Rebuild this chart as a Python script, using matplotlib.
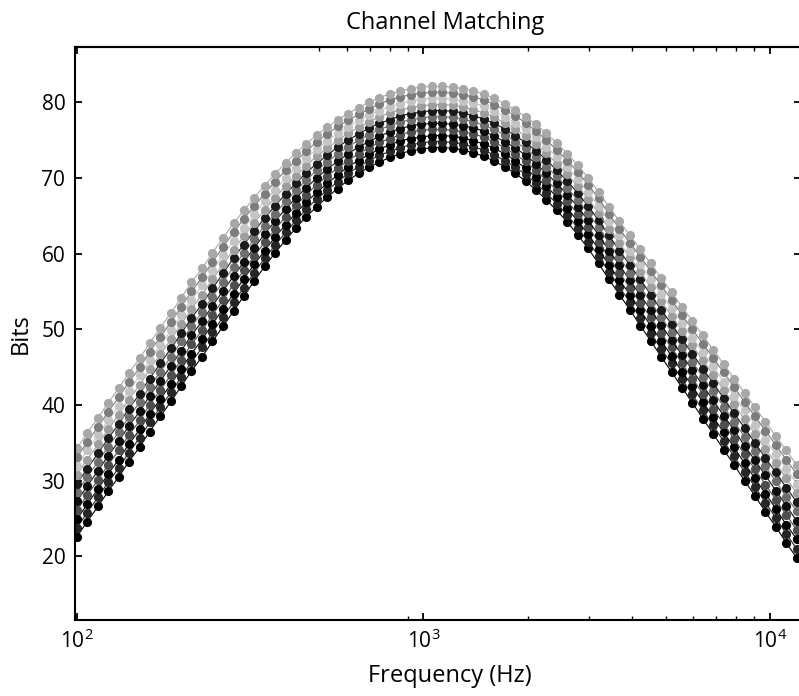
import matplotlib.pyplot as plt

plt.rcParams['font.family'] = ['Open Sans', 'DejaVu Sans']
plt.rcParams['mathtext.default'] = 'regular'

# frequency grid shared by all channels (Hz)
freq_hz = [100, 107, 115, 123, 132, 141, 152, 162, 174, 187,
           200, 214, 230, 246, 264, 283, 303, 325, 348, 373,
           400, 429, 459, 492, 528, 566, 606, 650, 696, 746,
           800, 857, 919, 985, 1056, 1131, 1213, 1300, 1393, 1493,
           1600, 1715, 1838, 1970, 2111, 2263, 2425, 2599, 2786, 2986,
           3200, 3430, 3676, 3940, 4222, 4525, 4850, 5198, 5572, 5971,
           6400, 6859, 7352, 7879, 8445, 9051, 9701, 10397, 11143, 11943]

ch01 = [22.6, 24.6, 26.6, 28.6, 30.5, 32.5, 34.5, 36.5, 38.5, 40.5,
        42.5, 44.5, 46.4, 48.4, 50.4, 52.4, 54.4, 56.4, 58.3, 60.1,
        61.8, 63.4, 64.9, 66.2, 67.5, 68.6, 69.7, 70.6, 71.4, 72.1,
        72.7, 73.2, 73.6, 73.8, 74.0, 74.0, 73.9, 73.7, 73.3, 72.9,
        72.2, 71.5, 70.6, 69.6, 68.4, 67.1, 65.7, 64.2, 62.5, 60.7,
        58.7, 56.6, 54.6, 52.6, 50.5, 48.5, 46.4, 44.4, 42.3, 40.3,
        38.2, 36.2, 34.1, 32.1, 30.0, 28.0, 25.9, 23.9, 21.8, 19.8]
ch02 = [23.8, 25.8, 27.8, 29.8, 31.7, 33.7, 35.7, 37.7, 39.7, 41.7,
        43.7, 45.7, 47.6, 49.6, 51.6, 53.6, 55.5, 57.5, 59.4, 61.1,
        62.8, 64.4, 65.9, 67.2, 68.4, 69.5, 70.6, 71.5, 72.3, 73.0,
        73.5, 74.0, 74.4, 74.6, 74.8, 74.8, 74.7, 74.5, 74.1, 73.7,
        73.0, 72.3, 71.4, 70.5, 69.3, 68.0, 66.6, 65.1, 63.4, 61.6,
        59.7, 57.6, 55.6, 53.6, 51.5, 49.5, 47.4, 45.5, 43.4, 41.4,
        39.3, 37.3, 35.2, 33.2, 31.2, 29.2, 27.1, 25.1, 23.0, 21.0]
ch03 = [24.9, 26.9, 28.9, 30.9, 32.8, 34.8, 36.8, 38.8, 40.8, 42.8,
        44.8, 46.8, 48.7, 50.7, 52.7, 54.7, 56.7, 58.6, 60.4, 62.2,
        63.8, 65.4, 66.8, 68.1, 69.3, 70.4, 71.5, 72.3, 73.1, 73.8,
        74.4, 74.9, 75.2, 75.4, 75.6, 75.6, 75.5, 75.3, 74.9, 74.5,
        73.9, 73.2, 72.3, 71.3, 70.1, 68.9, 67.5, 66.0, 64.3, 62.6,
        60.6, 58.5, 56.5, 54.6, 52.5, 50.5, 48.5, 46.5, 44.4, 42.5,
        40.4, 38.4, 36.4, 34.4, 32.3, 30.3, 28.3, 26.3, 24.2, 22.3]
ch04 = [26.1, 28.1, 30.1, 32.1, 34.0, 36.0, 38.0, 40.0, 42.0, 44.0,
        46.0, 48.0, 49.9, 51.9, 53.9, 55.9, 57.8, 59.7, 61.5, 63.2,
        64.9, 66.4, 67.8, 69.1, 70.3, 71.3, 72.3, 73.2, 74.0, 74.7,
        75.2, 75.7, 76.1, 76.3, 76.4, 76.4, 76.3, 76.1, 75.8, 75.4,
        74.7, 74.0, 73.1, 72.2, 71.0, 69.7, 68.4, 66.9, 65.3, 63.5,
        61.6, 59.5, 57.5, 55.5, 53.5, 51.6, 49.5, 47.6, 45.5, 43.5,
        41.5, 39.5, 37.5, 35.5, 33.5, 31.5, 29.5, 27.5, 25.5, 23.5]
ch05 = [27.3, 29.3, 31.3, 33.3, 35.2, 37.2, 39.2, 41.2, 43.2, 45.2,
        47.2, 49.2, 51.1, 53.1, 55.1, 57.0, 58.9, 60.8, 62.6, 64.3,
        65.9, 67.4, 68.7, 70.0, 71.2, 72.2, 73.2, 74.1, 74.8, 75.5,
        76.1, 76.5, 76.9, 77.1, 77.2, 77.2, 77.1, 76.9, 76.6, 76.2,
        75.5, 74.8, 74.0, 73.0, 71.9, 70.6, 69.3, 67.8, 66.2, 64.4,
        62.5, 60.4, 58.5, 56.5, 54.5, 52.6, 50.6, 48.6, 46.6, 44.6,
        42.6, 40.6, 38.6, 36.7, 34.6, 32.7, 30.7, 28.7, 26.7, 24.7]
ch06 = [28.5, 30.5, 32.5, 34.5, 36.4, 38.4, 40.4, 42.4, 44.4, 46.4,
        48.4, 50.4, 52.3, 54.3, 56.3, 58.2, 60.1, 61.9, 63.7, 65.3,
        66.9, 68.4, 69.7, 71.0, 72.1, 73.2, 74.1, 75.0, 75.7, 76.4,
        76.9, 77.4, 77.7, 77.9, 78.1, 78.1, 78.0, 77.8, 77.4, 77.0,
        76.4, 75.7, 74.8, 73.9, 72.8, 71.5, 70.2, 68.7, 67.1, 65.4,
        63.5, 61.4, 59.5, 57.5, 55.6, 53.6, 51.6, 49.7, 47.7, 45.7,
        43.7, 41.8, 39.8, 37.8, 35.8, 33.9, 31.9, 29.9, 27.9, 26.0]
ch07 = [29.6, 31.6, 33.6, 35.6, 37.5, 39.5, 41.5, 43.5, 45.5, 47.5,
        49.5, 51.5, 53.4, 55.4, 57.4, 59.4, 61.2, 63.0, 64.7, 66.3,
        67.9, 69.3, 70.7, 71.9, 73.0, 74.1, 75.0, 75.8, 76.6, 77.2,
        77.7, 78.2, 78.5, 78.7, 78.9, 78.9, 78.8, 78.6, 78.2, 77.8,
        77.2, 76.5, 75.6, 74.7, 73.6, 72.4, 71.0, 69.6, 68.0, 66.3,
        64.4, 62.4, 60.4, 58.5, 56.6, 54.6, 52.6, 50.7, 48.7, 46.8,
        44.8, 42.9, 40.9, 38.9, 37.0, 35.0, 33.0, 31.1, 29.1, 27.2]
ch08 = [30.8, 32.8, 34.8, 36.8, 38.7, 40.7, 42.7, 44.7, 46.7, 48.7,
        50.7, 52.7, 54.6, 56.6, 58.6, 60.5, 62.3, 64.1, 65.8, 67.4,
        68.9, 70.3, 71.6, 72.9, 73.9, 75.0, 75.9, 76.7, 77.4, 78.1,
        78.6, 79.0, 79.3, 79.5, 79.7, 79.7, 79.6, 79.4, 79.0, 78.6,
        78.0, 77.3, 76.5, 75.5, 74.5, 73.3, 71.9, 70.5, 68.9, 67.2,
        65.4, 63.3, 61.4, 59.5, 57.6, 55.6, 53.7, 51.8, 49.8, 47.9,
        45.9, 44.0, 42.0, 40.1, 38.1, 36.2, 34.2, 32.3, 30.3, 28.4]
ch09 = [32.0, 34.0, 36.0, 38.0, 39.9, 41.9, 43.9, 45.9, 47.9, 49.9,
        51.9, 53.9, 55.8, 57.8, 59.8, 61.7, 63.4, 65.2, 66.9, 68.4,
        70.0, 71.3, 72.6, 73.8, 74.9, 75.9, 76.7, 77.6, 78.3, 78.9,
        79.4, 79.8, 80.2, 80.4, 80.5, 80.5, 80.4, 80.2, 79.9, 79.5,
        78.8, 78.1, 77.3, 76.4, 75.4, 74.1, 72.8, 71.4, 69.9, 68.1,
        66.3, 64.3, 62.4, 60.4, 58.6, 56.7, 54.7, 52.8, 50.9, 48.9,
        47.0, 45.1, 43.1, 41.2, 39.3, 37.4, 35.4, 33.5, 31.6, 29.6]
ch10 = [33.1, 35.1, 37.1, 39.1, 41.0, 43.0, 45.0, 47.0, 49.0, 51.0,
        53.0, 55.0, 56.9, 58.9, 60.9, 62.8, 64.6, 66.3, 67.9, 69.5,
        71.0, 72.3, 73.5, 74.8, 75.8, 76.8, 77.6, 78.4, 79.1, 79.8,
        80.3, 80.7, 81.0, 81.2, 81.3, 81.3, 81.2, 81.0, 80.7, 80.3,
        79.7, 79.0, 78.2, 77.3, 76.2, 75.0, 73.7, 72.3, 70.8, 69.1,
        67.3, 65.2, 63.3, 61.4, 59.6, 57.7, 55.8, 53.9, 51.9, 50.0,
        48.1, 46.2, 44.3, 42.4, 40.4, 38.5, 36.6, 34.7, 32.8, 30.9]
ch11 = [34.3, 36.3, 38.3, 40.3, 42.2, 44.2, 46.2, 48.2, 50.2, 52.2,
        54.2, 56.2, 58.1, 60.1, 62.1, 64.0, 65.7, 67.4, 69.0, 70.5,
        72.0, 73.3, 74.5, 75.7, 76.7, 77.7, 78.5, 79.3, 80.0, 80.6,
        81.1, 81.5, 81.8, 82.0, 82.1, 82.1, 82.0, 81.8, 81.5, 81.1,
        80.5, 79.8, 79.0, 78.1, 77.1, 75.9, 74.6, 73.2, 71.7, 70.0,
        68.2, 66.2, 64.3, 62.4, 60.6, 58.7, 56.8, 54.9, 53.0, 51.1,
        49.2, 47.3, 45.4, 43.5, 41.6, 39.7, 37.8, 35.9, 34.0, 32.1]

channels = [ch01, ch02, ch03, ch04, ch05, ch06, ch07, ch08, ch09, ch10, ch11]
channel_colors = ['#000000', '#262626', '#000000', '#4d4d4d', '#0d0d0d', '#6e6e6e',
                  '#1a1a1a', '#9e9e9e', '#c4c4c4', '#7d7d7d', '#a8a8a8']

xtick_pos = [100, 1000, 10000]
xtick_labels = ['$10^{2}$', '$10^{3}$', '$10^{4}$']
xminor_bottom = [900, 2000, 3000, 4000, 5000, 6000, 7000, 8000, 9000]
xminor_top = [500, 600, 700, 800, 900, 2000, 3000, 4000, 5000, 6000, 7000, 8000, 9000]
ytick_pos = [20, 30, 40, 50, 60, 70, 80]

fig = plt.figure(figsize=(7.99, 6.96), dpi=100)
ax = fig.add_axes([0.0939, 0.1092, 0.9086, 0.8233])

for vals, col in zip(channels, channel_colors):
    ax.plot(freq_hz, vals, '-o', color=col, lw=0.8, ms=6.6, mew=0)

ax.set_xscale('log')
ax.set_xlim(98.7, 12290)
ax.set_ylim(11.6, 87.3)

ax.set_xticks(xtick_pos)
ax.set_xticklabels(xtick_labels)
ax.set_xticks(xminor_bottom, minor=True)
ax.set_xticklabels([], minor=True)
ax.set_yticks(ytick_pos)

ax.tick_params(axis='both', which='major', direction='in', length=5, width=1.3,
               labelsize=15)
ax.tick_params(axis='both', which='minor', direction='in', length=3, width=1.0)
ax.tick_params(axis='y', right=True, pad=7)
ax.tick_params(axis='x', pad=7)

top = ax.secondary_xaxis('top')
top.set_xticks(xtick_pos)
top.set_xticklabels([])
top.set_xticks(xminor_top, minor=True)
top.tick_params(which='major', direction='in', length=5, width=1.3)
top.tick_params(which='minor', direction='in', length=3, width=1.0)

for side in ['left', 'bottom', 'top']:
    ax.spines[side].set_linewidth(1.5)
ax.spines['right'].set_visible(False)
top.spines['top'].set_linewidth(1.5)

ax.set_xlabel('Frequency (Hz)', fontsize=17)
ax.xaxis.set_label_coords(0.5165, -0.076)
ax.set_ylabel('Bits', fontsize=17)
ax.yaxis.set_label_coords(-0.058, 0.5)

fig.text(0.557, 0.959, 'Channel Matching', ha='center', va='baseline', fontsize=17)

fig.savefig('out.png', dpi=100)
